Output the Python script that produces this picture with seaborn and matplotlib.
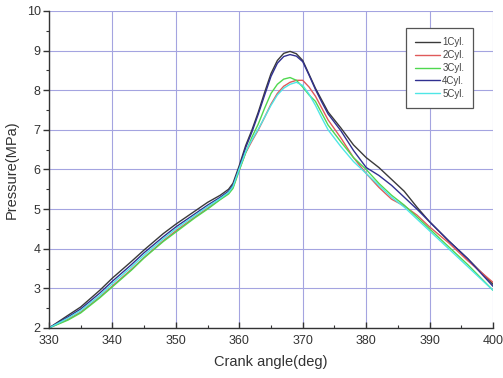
import matplotlib
matplotlib.use("Agg")
import matplotlib.pyplot as plt
import seaborn as sns
import pandas as pd
from matplotlib.ticker import MultipleLocator

angle = [330, 333, 335, 338, 340, 343, 345, 348, 350, 353, 355, 357, 358.3, 359, 360, 361, 362,
         363, 364, 365, 366, 367, 368, 369, 370, 371, 372, 373, 374, 376, 378, 380, 382, 384,
         386, 388, 390, 393, 396, 400]

cyl1 = [2.00, 2.32, 2.53, 2.95, 3.26, 3.68, 3.97, 4.38, 4.62, 4.95, 5.17, 5.35, 5.50, 5.65, 6.10,
        6.60, 7.00, 7.45, 7.95, 8.42, 8.75, 8.93, 8.98, 8.92, 8.75, 8.40, 8.05, 7.75, 7.45, 7.05,
        6.62, 6.30, 6.05, 5.75, 5.45, 5.05, 4.68, 4.20, 3.75, 3.10]
cyl2 = [2.00, 2.22, 2.40, 2.78, 3.06, 3.48, 3.78, 4.20, 4.45, 4.80, 5.02, 5.25, 5.40, 5.55, 6.00,
        6.42, 6.72, 7.00, 7.32, 7.65, 7.92, 8.10, 8.20, 8.25, 8.25, 8.08, 7.85, 7.55, 7.25, 6.80,
        6.30, 5.90, 5.55, 5.25, 5.08, 4.85, 4.55, 4.15, 3.70, 3.15]
cyl3 = [2.00, 2.20, 2.38, 2.76, 3.04, 3.46, 3.77, 4.18, 4.42, 4.78, 5.00, 5.24, 5.38, 5.52, 5.98,
        6.42, 6.82, 7.15, 7.55, 7.92, 8.15, 8.28, 8.32, 8.25, 8.08, 7.88, 7.72, 7.42, 7.12, 6.70,
        6.30, 6.00, 5.65, 5.35, 5.10, 4.80, 4.50, 4.05, 3.60, 2.95]
cyl4 = [2.00, 2.28, 2.48, 2.88, 3.18, 3.60, 3.90, 4.30, 4.55, 4.88, 5.10, 5.30, 5.45, 5.60, 6.05,
        6.55, 6.95, 7.40, 7.88, 8.35, 8.68, 8.85, 8.90, 8.86, 8.72, 8.38, 8.02, 7.70, 7.40, 6.98,
        6.48, 6.05, 5.85, 5.60, 5.30, 5.00, 4.68, 4.20, 3.75, 3.05]
cyl5 = [2.00, 2.25, 2.44, 2.82, 3.12, 3.54, 3.84, 4.25, 4.50, 4.84, 5.06, 5.27, 5.42, 5.57, 6.02,
        6.45, 6.75, 7.02, 7.32, 7.62, 7.88, 8.05, 8.15, 8.20, 8.12, 7.90, 7.62, 7.30, 7.00, 6.58,
        6.20, 5.90, 5.60, 5.30, 5.05, 4.75, 4.45, 4.00, 3.55, 2.95]

labels = ["1Cyl.", "2Cyl.", "3Cyl.", "4Cyl.", "5Cyl."]
colors = ["#3a3a3a", "#e05a5a", "#4fd84f", "#303090", "#4fe6e6"]

frames = []
for lab, vals in zip(labels, [cyl1, cyl2, cyl3, cyl4, cyl5]):
    frames.append(pd.DataFrame({"angle": angle, "pressure": vals, "cyl": lab}))
df = pd.concat(frames, ignore_index=True)

sns.set_style("white")
plt.rcParams["font.family"] = ["Liberation Sans", "DejaVu Sans"]

fig = plt.figure(figsize=(5.03, 3.78), dpi=100)
ax = fig.add_axes([0.0974, 0.1323, 0.8828, 0.8387])

sns.lineplot(data=df, x="angle", y="pressure", hue="cyl", palette=colors,
             linewidth=1.0, ax=ax, sort=False)

ax.set_xlim(330, 400)
ax.set_ylim(2, 10)
ax.xaxis.set_major_locator(MultipleLocator(10))
ax.xaxis.set_minor_locator(MultipleLocator(5))
ax.yaxis.set_major_locator(MultipleLocator(1))
ax.yaxis.set_minor_locator(MultipleLocator(0.5))

ax.grid(True, which="major", color="#a4a4e0", linewidth=0.8)
ax.set_axisbelow(True)

for s in ["top", "right"]:
    ax.spines[s].set_visible(False)
for s in ["left", "bottom"]:
    ax.spines[s].set_color("#333333")
    ax.spines[s].set_linewidth(1.0)

ax.tick_params(axis="x", which="major", direction="in", length=4, width=1, colors="#333333",
               labelsize=9, labelcolor="#333333", pad=5, bottom=True)
ax.tick_params(axis="x", which="minor", direction="in", length=2.5, width=0.8, colors="#333333", bottom=True)
ax.tick_params(axis="y", which="major", direction="out", length=4, width=1, colors="#333333",
               labelsize=9, labelcolor="#333333", pad=2, left=True)
ax.tick_params(axis="y", which="minor", direction="out", length=2.5, width=0.8, colors="#333333", left=True)

ax.set_xlabel("Crank angle(deg)", fontsize=10.5, color="#333333", labelpad=6)
ax.set_ylabel("Pressure(MPa)", fontsize=10.5, color="#333333", labelpad=6)

leg = ax.legend(loc="upper right", bbox_to_anchor=(0.955, 0.945), fontsize=7,
                frameon=True, fancybox=False, edgecolor="#555555", framealpha=1,
                handlelength=2.6, handletextpad=0.2, labelspacing=0.3,
                borderpad=0.9, borderaxespad=0, title=None)
leg.get_frame().set_linewidth(0.9)
for t in leg.get_texts():
    t.set_color("#444444")

fig.savefig("out.png", dpi=100)
